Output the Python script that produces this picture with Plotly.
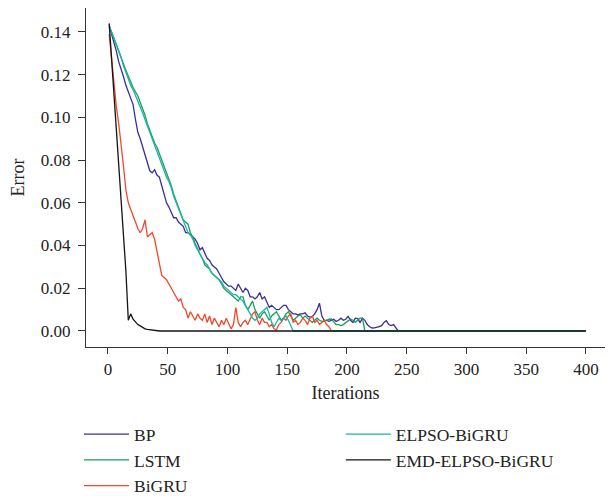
import plotly.graph_objects as go

# iterations sampled every 2 steps (1, 3, 5, ...)
ITER = list(range(1, 401, 2))
END_ITER = 400

bp = [0.143, 0.139, 0.136, 0.131, 0.126, 0.123, 0.119, 0.115, 0.112, 0.109,
      0.106, 0.099, 0.093, 0.090, 0.086, 0.082, 0.078, 0.075, 0.074, 0.0755,
      0.073, 0.072, 0.068, 0.064, 0.060, 0.058, 0.055, 0.053, 0.053, 0.051,
      0.050, 0.049, 0.046, 0.046, 0.045, 0.044, 0.043, 0.041, 0.038, 0.039,
      0.036, 0.034, 0.033, 0.031, 0.030, 0.029, 0.027, 0.025, 0.023, 0.022,
      0.021, 0.021, 0.020, 0.019, 0.022, 0.020, 0.018, 0.020, 0.019, 0.016,
      0.016, 0.015, 0.016, 0.018, 0.015, 0.016, 0.013, 0.011, 0.012, 0.011,
      0.010, 0.010, 0.011, 0.012, 0.012, 0.010, 0.009, 0.008, 0.008, 0.0075,
      0.008, 0.008, 0.0085, 0.007, 0.0065, 0.0067, 0.008, 0.010, 0.013, 0.007,
      0.005, 0.005, 0.0045, 0.005, 0.0055, 0.0045, 0.005, 0.006, 0.005, 0.0055,
      0.0068, 0.005, 0.004, 0.006, 0.0058, 0.004, 0.006, 0.005, 0.003, 0.002,
      0.0014, 0.0015, 0.0017, 0.002, 0.0025, 0.004, 0.0048, 0.003, 0.0025, 0.003,
      0.0015]

lstm = [0.142, 0.140, 0.137, 0.134, 0.131, 0.129, 0.125, 0.122, 0.119, 0.116,
        0.114, 0.112, 0.110, 0.107, 0.104, 0.101, 0.097, 0.094, 0.091, 0.088,
        0.086, 0.083, 0.080, 0.077, 0.074, 0.070, 0.068, 0.064, 0.061, 0.058,
        0.055, 0.052, 0.051, 0.050, 0.046, 0.044, 0.041, 0.038, 0.036, 0.034,
        0.031, 0.030, 0.029, 0.027, 0.026, 0.025, 0.024, 0.022, 0.020, 0.019,
        0.018, 0.017, 0.016, 0.015, 0.014, 0.016, 0.016, 0.012, 0.010, 0.012,
        0.014, 0.010, 0.008, 0.006, 0.008, 0.009, 0.007, 0.005, 0.007, 0.008,
        0.009, 0.007, 0.005, 0.006, 0.008, 0.009, 0.007, 0.005, 0.006, 0.007,
        0.0075, 0.006, 0.007, 0.006, 0.005, 0.004, 0.005, 0.006, 0.005, 0.0045,
        0.0045, 0.005, 0.0055, 0.0056, 0.004, 0.003, 0.003, 0.0025, 0.003, 0.004,
        0.005, 0.0056, 0.005, 0.004, 0.005, 0.006, 0.006]

bigru = [0.139, 0.127, 0.115, 0.105, 0.097, 0.088, 0.077, 0.066, 0.060, 0.057,
         0.054, 0.050, 0.048, 0.046, 0.048, 0.052, 0.044, 0.045, 0.046, 0.043,
         0.037, 0.031, 0.026, 0.025, 0.024, 0.022, 0.020, 0.018, 0.016, 0.014,
         0.015, 0.011, 0.010, 0.006, 0.009, 0.007, 0.005, 0.008, 0.006, 0.005,
         0.008, 0.004, 0.007, 0.003, 0.006, 0.004, 0.002, 0.005, 0.003, 0.006,
         0.003, 0.001, 0.003, 0.011, 0.004, 0.002, 0.004, 0.005, 0.003, 0.006,
         0.008, 0.009, 0.005, 0.003, 0.006, 0.004, 0.004, 0.002, 0.003, 0.001,
         0.0005, 0.003, 0.004, 0.006, 0.005, 0.007, 0.008, 0.004, 0.005, 0.003,
         0.004, 0.006, 0.005, 0.003, 0.006, 0.007, 0.004, 0.005, 0.003, 0.004,
         0.005, 0.003, 0.002]

elpso_bigru = [0.143, 0.140, 0.137, 0.134, 0.131, 0.128, 0.124, 0.121, 0.118, 0.115,
               0.113, 0.110, 0.108, 0.105, 0.102, 0.099, 0.096, 0.093, 0.090, 0.087,
               0.084, 0.081, 0.078, 0.075, 0.072, 0.070, 0.067, 0.063, 0.060, 0.057,
               0.054, 0.051, 0.048, 0.046, 0.045, 0.043, 0.040, 0.038, 0.036, 0.034,
               0.032, 0.031, 0.029, 0.027, 0.026, 0.025, 0.024, 0.023, 0.021, 0.020,
               0.019, 0.018, 0.017, 0.017, 0.016, 0.015, 0.014, 0.012, 0.010, 0.008,
               0.006, 0.005, 0.006, 0.008, 0.009, 0.010, 0.011, 0.008, 0.004, 0.002,
               0.004, 0.006, 0.005, 0.006, 0.007, 0.005, 0.002]

emd_elpso_bigru = [0.144, 0.127, 0.110, 0.093, 0.076, 0.060, 0.044, 0.028, 0.005, 0.008,
                   0.0055, 0.004, 0.003, 0.0024, 0.0015, 0.001, 0.0008, 0.0006, 0.0004, 0.0002,
                   0.0001, 0.0]

series = [
    ("BP", bp, "#3a2e98", "legend"),
    ("LSTM", lstm, "#1a9e5c", "legend"),
    ("BiGRU", bigru, "#f0482a", "legend"),
    ("ELPSO-BiGRU", elpso_bigru, "#1ab5a6", "legend2"),
    ("EMD-ELPSO-BiGRU", emd_elpso_bigru, "#151515", "legend2"),
]

fig = go.Figure()
for name, vals, color, leg in series:
    n = len(vals)
    # after the last recorded value the error stays at zero up to the end
    xs = ITER[:n] + [ITER[n], END_ITER]
    ys = vals + [0.0, 0.0]
    fig.add_trace(go.Scatter(
        x=xs, y=ys, mode="lines", name=name, legend=leg,
        line=dict(color=color, width=1.3),
    ))

FONT = "Liberation Serif"
LEG_FONT = dict(family=FONT, size=17.5, color="#222")
# the page body adds an 8px margin, so the figure is 8px smaller each way
fig.update_layout(
    width=605, height=488,
    margin=dict(l=78, r=8, t=0, b=149),
    plot_bgcolor="white", paper_bgcolor="white",
    font=dict(family=FONT, size=17, color="#222"),
    legend=dict(xref="paper", yref="container",
                x=-0.0135, y=0.1635, xanchor="left", yanchor="top",
                orientation="v", itemwidth=45, tracegroupgap=0, maxheight=300,
                font=LEG_FONT, bgcolor="rgba(0,0,0,0)"),
    legend2=dict(xref="paper", yref="container",
                 x=0.491, y=0.1635, xanchor="left", yanchor="top",
                 orientation="v", itemwidth=45, tracegroupgap=0, maxheight=300,
                 font=LEG_FONT, bgcolor="rgba(0,0,0,0)"),
)
fig.update_xaxes(
    range=[-18.4, 416], showgrid=False, zeroline=False,
    showline=True, linecolor="#333", linewidth=1.2,
    ticks="outside", ticklen=6, tickcolor="#333",
    tickvals=[0, 50, 100, 150, 200, 250, 300, 350, 400],
    tickfont=dict(family=FONT, size=17, color="#222"),
    title=dict(text="Iterations", font=dict(family=FONT, size=18), standoff=8),
)
fig.update_yaxes(
    range=[-0.0075, 0.1512], showgrid=False, zeroline=False,
    showline=True, linecolor="#333", linewidth=1.2,
    ticks="outside", ticklen=7, tickcolor="#333", ticklabelstandoff=4,
    tickvals=[0, 0.02, 0.04, 0.06, 0.08, 0.10, 0.12, 0.14],
    tickformat=".2f",
    tickfont=dict(family=FONT, size=17, color="#222"),
    title=dict(text="Error", font=dict(family=FONT, size=18), standoff=11),
)

fig.write_html("out.html")
